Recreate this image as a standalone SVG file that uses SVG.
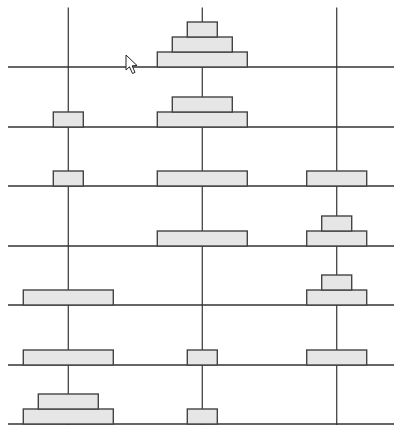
<svg xmlns="http://www.w3.org/2000/svg" width="394" height="425" viewBox="0 0 394 425">
<style>
.peg{stroke:#444;stroke-width:1.3;fill:none}
.base{stroke:#333;stroke-width:1.3;fill:none}
.disk{fill:#e6e6e6;stroke:#444;stroke-width:1.4}
</style>
<defs>
<rect id="s" class="disk" x="-15" y="-15" width="30" height="15"/>
<rect id="m" class="disk" x="-30" y="-15" width="60" height="15"/>
<rect id="l" class="disk" x="-45" y="-15" width="90" height="15"/>
</defs>
<rect width="394" height="425" fill="#fff"/>
<g id="connectors">
<line class="peg" x1="68.3" y1="7.5" x2="68.3" y2="425"/>
<line class="peg" x1="202.3" y1="7.5" x2="202.3" y2="425"/>
<line class="peg" x1="336.7" y1="7.5" x2="336.7" y2="425"/>
<line class="base" x1="8" y1="67" x2="394" y2="67"/>
<line class="base" x1="8" y1="127" x2="394" y2="127"/>
<line class="base" x1="8" y1="186" x2="394" y2="186"/>
<line class="base" x1="8" y1="246" x2="394" y2="246"/>
<line class="base" x1="8" y1="305" x2="394" y2="305"/>
<line class="base" x1="8" y1="365" x2="394" y2="365"/>
<line class="base" x1="8" y1="424" x2="394" y2="424"/>
</g>
<g id="state1">
<use href="#l" x="202.3" y="67"/>
<use href="#m" x="202.3" y="52"/>
<use href="#s" x="202.3" y="37"/>
</g>
<g id="state2">
<use href="#s" x="68.3" y="127"/>
<use href="#l" x="202.3" y="127"/>
<use href="#m" x="202.3" y="112"/>
</g>
<g id="state3">
<use href="#s" x="68.3" y="186"/>
<use href="#l" x="202.3" y="186"/>
<use href="#m" x="336.7" y="186"/>
</g>
<g id="state4">
<use href="#l" x="202.3" y="246"/>
<use href="#m" x="336.7" y="246"/>
<use href="#s" x="336.7" y="231"/>
</g>
<g id="state5">
<use href="#l" x="68.3" y="305"/>
<use href="#m" x="336.7" y="305"/>
<use href="#s" x="336.7" y="290"/>
</g>
<g id="state6">
<use href="#l" x="68.3" y="365"/>
<use href="#s" x="202.3" y="365"/>
<use href="#m" x="336.7" y="365"/>
</g>
<g id="state7">
<use href="#l" x="68.3" y="424"/>
<use href="#m" x="68.3" y="409"/>
<use href="#s" x="202.3" y="424"/>
</g>
<g id="cursor">
<path d="M126 55 L126 70 L129.5 66.8 L132.5 73.5 L135 72.4 L132.2 65.8 L137 65.5 Z" fill="#fff" stroke="#222" stroke-width="1" stroke-linejoin="round"/>
</g>
</svg>
